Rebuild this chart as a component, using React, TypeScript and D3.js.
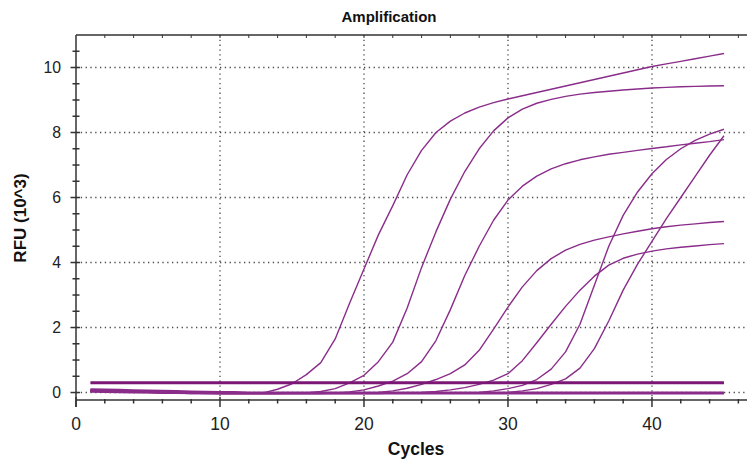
import React from "react";
import * as d3 from "d3";

// cycle numbers (x values of every curve)
const cycles = [
  1, 2, 3, 4, 5, 6, 7, 8, 9, 10, 11, 12, 13, 14, 15, 16, 17, 18, 19, 20, 21, 22, 23,
  24, 25, 26, 27, 28, 29, 30, 31, 32, 33, 34, 35, 36, 37, 38, 39, 40, 41, 42, 43, 44, 45,
];

// RFU (x10^3) per cycle
const wellA = [
  0.07, 0.06, 0.05, 0.04, 0.03, 0.02, 0.01, 0.0, -0.01, -0.02, -0.02, -0.02, -0.01, 0.1, 0.27,
  0.55, 0.92, 1.65, 2.75, 3.8, 4.85, 5.75, 6.7, 7.45, 8.0, 8.35, 8.6, 8.78, 8.92, 9.03,
  9.13, 9.23, 9.33, 9.43, 9.53, 9.63, 9.73, 9.83, 9.93, 10.03, 10.11, 10.19, 10.27, 10.35, 10.43,
];
const wellB = [
  0.06, 0.05, 0.04, 0.03, 0.02, 0.01, 0.0, -0.01, -0.02, -0.03, -0.03, -0.03, -0.03, -0.03, -0.02,
  -0.01, 0.03, 0.12, 0.3, 0.53, 0.95, 1.55, 2.6, 3.85, 4.95, 5.95, 6.8, 7.5, 8.05, 8.45,
  8.72, 8.9, 9.02, 9.11, 9.18, 9.23, 9.27, 9.31, 9.34, 9.37, 9.39, 9.41, 9.42, 9.43, 9.44,
];
const wellC = [
  0.05, 0.04, 0.03, 0.02, 0.01, 0.0, -0.01, -0.02, -0.03, -0.03, -0.03, -0.03, -0.03, -0.03, -0.03,
  -0.03, -0.03, -0.02, 0.02, 0.08, 0.2, 0.35, 0.58, 0.95, 1.6, 2.55, 3.6, 4.5, 5.3, 5.92,
  6.35, 6.66, 6.88, 7.04, 7.16, 7.25, 7.33, 7.39, 7.45, 7.51, 7.56, 7.62, 7.67, 7.72, 7.78,
];
const wellD = [
  0.06, 0.05, 0.04, 0.03, 0.02, 0.01, 0.0, -0.01, -0.02, -0.02, -0.02, -0.02, -0.02, -0.02, -0.02,
  -0.02, -0.02, -0.02, -0.02, -0.01, 0.0, 0.05, 0.13, 0.25, 0.4, 0.58, 0.85, 1.3, 1.95, 2.63,
  3.25, 3.75, 4.12, 4.38, 4.56, 4.69, 4.79, 4.88, 4.96, 5.04, 5.1, 5.15, 5.19, 5.23, 5.26,
];
const wellE = [
  0.04, 0.03, 0.02, 0.01, 0.0, -0.01, -0.02, -0.03, -0.03, -0.03, -0.03, -0.03, -0.03, -0.03, -0.03,
  -0.03, -0.03, -0.03, -0.03, -0.03, -0.03, -0.02, -0.01, 0.0, 0.03, 0.08, 0.15, 0.25, 0.38, 0.58,
  0.98, 1.53, 2.1, 2.65, 3.15, 3.58, 3.92, 4.13, 4.26, 4.35, 4.42, 4.47, 4.51, 4.55, 4.58,
];
const wellF = [
  0.05, 0.04, 0.03, 0.02, 0.01, 0.0, -0.01, -0.02, -0.02, -0.02, -0.02, -0.02, -0.02, -0.02, -0.02,
  -0.02, -0.02, -0.02, -0.02, -0.02, -0.02, -0.02, -0.02, -0.02, -0.02, -0.02, -0.01, 0.0, 0.05, 0.12,
  0.22, 0.4, 0.72, 1.25, 2.1, 3.3, 4.5, 5.45, 6.17, 6.73, 7.17, 7.5, 7.76, 7.95, 8.1,
];
const wellG = [
  0.07, 0.06, 0.05, 0.04, 0.03, 0.02, 0.01, 0.0, -0.01, -0.01, -0.01, -0.01, -0.01, -0.01, -0.01,
  -0.01, -0.01, -0.01, -0.01, -0.01, -0.01, -0.01, -0.01, -0.01, -0.01, -0.01, -0.01, -0.01, -0.01, 0.0,
  0.05, 0.12, 0.25, 0.42, 0.75, 1.35, 2.2, 3.15, 3.95, 4.65, 5.35, 6.0, 6.65, 7.3, 7.9,
];
// negative wells, stay flat near zero
const ntc1 = [
  0.1, 0.09, 0.08, 0.07, 0.06, 0.05, 0.04, 0.03, 0.02, 0.01, 0.01, 0.0, 0.0, 0.0, 0.0,
  0.0, 0.0, 0.0, 0.0, 0.0, 0.0, 0.0, 0.0, 0.0, 0.0, 0.0, 0.0, 0.0, 0.0, 0.0,
  0.0, 0.0, 0.0, 0.0, 0.0, 0.0, 0.0, 0.0, 0.0, 0.0, 0.0, 0.0, 0.0, 0.0, 0.0,
];
const ntc2 = [
  0.03, 0.02, 0.01, 0.0, 0.0, -0.01, -0.01, -0.02, -0.02, -0.03, -0.03, -0.03, -0.03, -0.03, -0.03,
  -0.03, -0.03, -0.03, -0.03, -0.03, -0.03, -0.03, -0.03, -0.03, -0.03, -0.03, -0.03, -0.03, -0.03, -0.03,
  -0.03, -0.03, -0.03, -0.03, -0.03, -0.03, -0.03, -0.03, -0.03, -0.03, -0.03, -0.03, -0.03, -0.03, -0.03,
];
const negatives = [ntc1, ntc2];
const wells = [wellA, wellB, wellC, wellD, wellE, wellF, wellG];

const threshold = 0.3;
const thresholdRange = [1, 45];

const xTicks = [0, 10, 20, 30, 40];
const yTicks = [0, 2, 4, 6, 8, 10];

export default function App() {
  const W = 747, H = 459;
  const font = "'Liberation Sans', Arial, sans-serif";

  // plot box: left 76, top 35, bottom 400, right runs past the window
  const x = d3.scaleLinear().domain([0, 46.6]).range([76, 747]);
  const y = d3.scaleLinear().domain([-0.23, 11]).range([400, 35]);

  const line = d3
    .line<number>()
    .x((d, i) => x(cycles[i]))
    .y((d) => y(d));

  const xMinor = d3.range(2, 47, 2).filter((v) => v % 10 !== 0);
  const yMinor = d3.range(0.5, 11, 0.5).filter((v) => v % 2 !== 0);
  const top = y.range()[1], bottom = y.range()[0], left = x.range()[0], right = x.range()[1];

  return (
    <svg width={W} height={H} style={{ position: "absolute", left: 0, top: 0, background: "#fff" }}>
      <rect width={W} height={H} fill="#fff" />

      {/* dotted grid */}
      <g stroke="#4a4a4a" strokeWidth={1.3} strokeDasharray="1.3 3.5">
        {yTicks.map((t) => (
          <line key={"gy" + t} x1={left} x2={right} y1={y(t)} y2={y(t)} />
        ))}
        {xTicks.filter((t) => t > 0).map((t) => (
          <line key={"gx" + t} x1={x(t)} x2={x(t)} y1={top} y2={bottom} />
        ))}
      </g>

      {/* frame / axes */}
      <g stroke="#333" strokeWidth={1.5} fill="none">
        <line x1={left} x2={right} y1={top} y2={top} />
        <line x1={left} x2={left} y1={top} y2={bottom + 7} />
        <line x1={left} x2={right} y1={bottom} y2={bottom} />
        {xTicks.map((t) => (
          <line key={"xt" + t} x1={x(t)} x2={x(t)} y1={bottom - 3} y2={bottom + 7} />
        ))}
        {xMinor.map((t) => (
          <line key={"xm" + t} x1={x(t)} x2={x(t)} y1={bottom - 1} y2={bottom + 3.5} />
        ))}
        {d3.range(2, 47, 2).map((t) => (
          <line key={"tt" + t} x1={x(t)} x2={x(t)} y1={top} y2={top + 3} strokeWidth={1} />
        ))}
        {yTicks.map((t) => (
          <line key={"yt" + t} x1={left - 5.5} x2={left + 4} y1={y(t)} y2={y(t)} />
        ))}
        {yMinor.map((t) => (
          <line key={"ym" + t} x1={left - 3.5} x2={left + 3.5} y1={y(t)} y2={y(t)} />
        ))}
      </g>

      {/* tick labels */}
      <g fontFamily={font} fill="#222">
        {xTicks.map((t) => (
          <text key={"xl" + t} x={x(t)} y={430} fontSize={17.5} textAnchor="middle">
            {t}
          </text>
        ))}
        {yTicks.map((t) => (
          <text key={"yl" + t} x={61} y={y(t) + 5.6} fontSize={15.8} textAnchor="end">
            {t}
          </text>
        ))}
      </g>

      {/* curves */}
      <g fill="none" stroke="#8a2d8a" strokeWidth={2.2} strokeLinejoin="round">
        {negatives.map((w, i) => (
          <path key={"n" + i} d={line(w) || ""} />
        ))}
      </g>
      <g fill="none" stroke="#8a2d8a" strokeWidth={1.4} strokeLinejoin="round">
        {wells.map((w, i) => (
          <path key={"w" + i} d={line(w) || ""} />
        ))}
      </g>
      <line
        x1={x(thresholdRange[0])}
        x2={x(thresholdRange[1])}
        y1={y(threshold)}
        y2={y(threshold)}
        stroke="#7a1674"
        strokeWidth={3}
      />

      {/* titles */}
      <text x={389} y={22} fontFamily={font} fontWeight="bold" fontSize={15} textAnchor="middle" fill="#111">
        Amplification
      </text>
      <text x={416} y={454.5} fontFamily={font} fontWeight="bold" fontSize={17.5} textAnchor="middle" fill="#111">
        Cycles
      </text>
      <text
        transform="translate(26,218) rotate(-90)"
        fontFamily={font}
        fontWeight="bold"
        fontSize={17}
        textAnchor="middle"
        fill="#111"
      >
        RFU (10^3)
      </text>
    </svg>
  );
}
